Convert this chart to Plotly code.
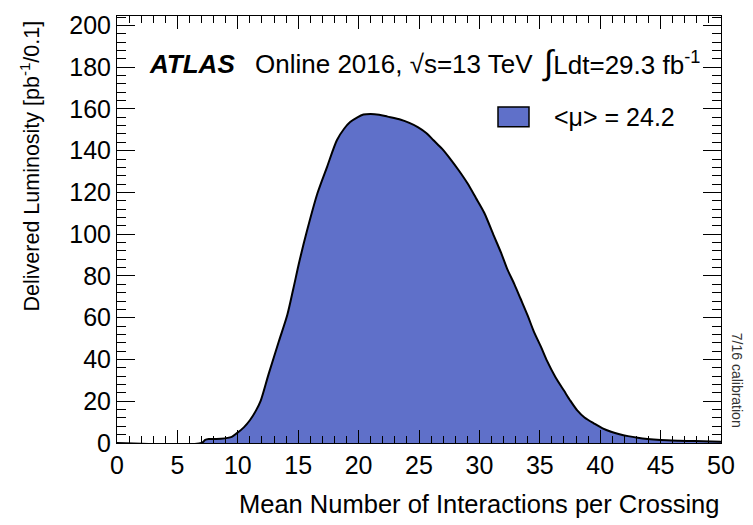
import plotly.graph_objects as go

# Mean number of interactions per crossing (mu) and delivered luminosity per 0.1 bin
mu = [0.0, 7.0, 7.3, 7.6, 8.6, 9.5, 9.9, 10.5, 11.0, 11.5, 11.9, 12.55, 13.4, 14.1,
      14.6, 15.1, 15.7, 16.6, 17.4, 18.2, 18.8, 19.3, 19.9, 20.4, 21.0, 21.7, 22.4,
      23.5, 24.2, 24.9, 25.6, 26.2, 26.9, 27.6, 28.3, 29.0, 29.7, 30.4, 31.2, 31.8,
      32.3, 32.9, 33.4, 34.0, 34.5, 35.1, 35.6, 36.3, 37.0, 37.5, 38.1, 38.7, 39.5,
      40.2, 40.9, 41.6, 42.3, 43.1, 43.9, 45.0, 46.5, 47.8, 50.0]
lumi = [0.0, 0.0, 1.5, 1.9, 2.0, 2.9, 4.6, 7.5, 10.9, 15.5, 20.3, 33.0, 48.7, 61.4,
        74.0, 87.0, 101.0, 119.7, 132.4, 145.0, 150.5, 153.7, 156.0, 157.3, 157.6,
        157.2, 156.3, 154.8, 153.3, 151.3, 148.5, 145.0, 141.0, 136.0, 130.5, 124.5,
        117.5, 110.3, 99.2, 91.0, 83.4, 76.0, 69.2, 61.0, 53.5, 46.0, 39.3, 31.5, 25.1,
        20.5, 15.6, 12.2, 9.3, 7.0, 5.4, 4.2, 3.3, 2.5, 1.9, 1.4, 1.1, 0.95, 0.6]

mean_mu = 24.2
x_range = [0, 50]
y_range = [0, 204.5]

FONT = "Liberation Sans, Arial, Helvetica, sans-serif"
FILL = "#5f70c9"

fig = go.Figure()
fig.add_trace(go.Scatter(
    x=mu, y=lumi, mode="lines", fill="tozeroy", fillcolor=FILL,
    line=dict(color="black", width=2, shape="spline", smoothing=0.8),
    showlegend=False, hoverinfo="x+y",
))

axis_common = dict(
    showline=True, linecolor="black", linewidth=1, mirror="ticks",
    ticks="inside", tickcolor="black", tickwidth=1,
    showgrid=False, zeroline=False,
    tickfont=dict(family=FONT, size=25, color="black"),
)
fig.update_xaxes(range=x_range, dtick=5, ticklen=13,
                 minor=dict(dtick=1, ticks="inside", ticklen=7, tickcolor="black"),
                 **axis_common)
fig.update_yaxes(range=y_range, dtick=20, ticklen=18,
                 minor=dict(dtick=4, ticks="inside", ticklen=9, tickcolor="black"),
                 **axis_common)

# plot frame in pixels: left 117, right 721, top 11, bottom 443
W, H = 753, 525
L, R, T, B = 117, 32, 11, 82
pw, ph = W - L - R, H - T - B


def px(x):
    return (x - L) / pw


def py(y):
    return (H - B - y) / ph


ann = []
ann.append(dict(text="<b><i>ATLAS</i></b>", x=px(147), y=py(60), xanchor="left",
                yanchor="middle", font=dict(size=26)))
ann.append(dict(text="Online 2016, √s=13 TeV", x=px(253), y=py(60), xanchor="left",
                yanchor="middle", font=dict(size=26)))
ann.append(dict(text="<span style='font-size:34px'>∫</span>Ldt=29.3 fb<sup>-1</sup>",
                x=px(540), y=py(58), xanchor="left", yanchor="middle", font=dict(size=26)))
ann.append(dict(text=f"&lt;μ&gt; = {mean_mu}", x=px(552), y=py(113), xanchor="left",
                yanchor="middle", font=dict(size=25)))
ann.append(dict(text="Mean Number of Interactions per Crossing", x=1.0, y=py(505),
                xanchor="right", yanchor="middle", font=dict(size=25.5)))
ann.append(dict(text="Delivered Luminosity [pb<sup>-1</sup>/0.1]", x=px(30), y=py(14),
                xanchor="center", yanchor="top", textangle=-90, font=dict(size=21.5)))
ann.append(dict(text="7/16 calibration", x=px(737), y=py(379), xanchor="center",
                yanchor="middle", textangle=90, font=dict(size=14, color="#333")))
for a in ann:
    a.update(xref="paper", yref="paper", showarrow=False)
    a["font"].setdefault("family", FONT)
    a["font"].setdefault("color", "black")

# legend marker box
fig.add_shape(type="rect", xref="paper", yref="paper",
              x0=px(498), x1=px(529), y0=py(123), y1=py(103),
              fillcolor=FILL, line=dict(color="black", width=1.5))

fig.update_layout(
    width=W, height=H, margin=dict(l=L, r=R, t=T, b=B),
    plot_bgcolor="white", paper_bgcolor="white",
    font=dict(family=FONT, color="black"),
    annotations=ann,
)

fig.write_html("out.html")
